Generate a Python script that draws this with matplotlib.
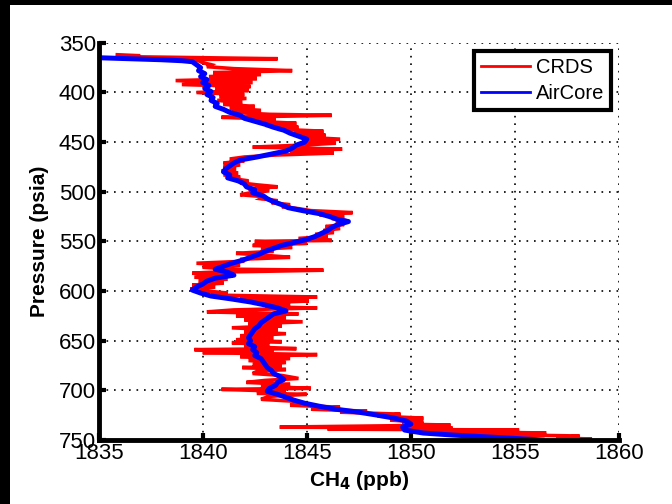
import numpy as np
import matplotlib
matplotlib.use("Agg")
import matplotlib.pyplot as plt
from matplotlib import patches

plt.rcParams['font.family'] = ['Liberation Sans', 'DejaVu Sans']

# CRDS profile (pressure in psia, CH4 in ppb)
crds_p = [362, 363, 364, 366, 367, 368, 370, 372, 374, 376, 378, 380, 382, 384, 386, 388,
          390, 392, 394, 396, 398, 400, 402, 404, 406, 408, 410, 412, 414, 416, 418, 420,
          422, 423, 425, 427, 429, 431, 433, 435, 437, 439, 441, 443, 445, 447, 449, 451,
          453, 455, 457, 459, 461, 463, 465, 467, 469, 471, 473, 475, 477, 479, 481, 483,
          485, 487, 489, 491, 493, 495, 497, 499, 501, 503, 505, 507, 509, 511, 513, 515,
          517, 519, 521, 523, 525, 527, 529, 531, 533, 535, 537, 539, 541, 543, 545, 547,
          549, 550, 552, 554, 556, 558, 560, 562, 564, 566, 568, 570, 572, 574, 576, 578,
          579, 581, 582, 584, 586, 588, 590, 592, 594, 596, 598, 600, 602, 604, 606, 608,
          610, 612, 614, 616, 617, 619, 621, 623, 625, 627, 629, 631, 633, 635, 637, 639,
          641, 643, 645, 647, 649, 651, 652, 654, 656, 658, 659, 661, 662, 664, 666, 668,
          670, 672, 674, 676, 677, 679, 681, 683, 685, 688, 690, 692, 694, 696, 698, 699,
          701, 703, 704, 706, 709, 711, 713, 715, 717, 719, 721, 722, 724, 726, 728, 730,
          732, 734, 735, 737, 738, 739, 740, 741, 743, 744, 746, 748, 749, 750]
crds_ch4 = [1835.9, 1837.0, 1836.5, 1843.6, 1838.0, 1839.8, 1840.0, 1840.4, 1840.2, 1841.5,
            1844.3, 1840.5, 1842.8, 1840.3, 1842.6, 1838.7, 1842.4, 1839.0, 1842.3, 1840.6,
            1842.2, 1839.7, 1842.0, 1840.8, 1842.1, 1840.7, 1841.9, 1841.0, 1842.5, 1841.3,
            1842.8, 1841.4, 1843.2, 1846.2, 1840.9, 1843.5, 1842.5, 1844.5, 1843.0, 1844.6,
            1843.6, 1845.8, 1844.4, 1845.9, 1844.8, 1846.6, 1845.0, 1846.4, 1844.8, 1842.4,
            1846.7, 1844.2, 1846.3, 1843.5, 1842.0, 1841.3, 1842.0, 1841.0, 1841.8, 1841.0,
            1841.6, 1840.9, 1841.7, 1841.0, 1841.8, 1841.5, 1842.2, 1841.8, 1842.6, 1843.6,
            1842.2, 1843.2, 1842.3, 1841.8, 1843.0, 1842.8, 1843.6, 1843.3, 1844.2, 1843.8,
            1844.6, 1845.2, 1847.2, 1845.6, 1846.8, 1846.2, 1846.9, 1846.4, 1846.8, 1845.9,
            1846.6, 1845.8, 1846.3, 1845.4, 1846.0, 1844.6, 1846.2, 1842.5, 1845.0, 1842.4,
            1844.3, 1842.8, 1843.4, 1841.6, 1843.0, 1844.2, 1841.8, 1842.0, 1839.7, 1841.8,
            1840.0, 1841.4, 1845.8, 1840.5, 1839.5, 1841.5, 1839.6, 1841.2, 1839.8, 1841.0,
            1839.5, 1840.6, 1839.4, 1840.2, 1841.2, 1840.4, 1845.5, 1841.8, 1845.1, 1842.6,
            1844.2, 1843.0, 1845.5, 1841.5, 1840.2, 1844.6, 1841.6, 1844.0, 1842.0, 1844.8,
            1842.2, 1843.8, 1841.4, 1843.6, 1842.0, 1844.0, 1841.8, 1843.4, 1841.6, 1843.8,
            1841.4, 1843.2, 1842.0, 1844.5, 1839.6, 1843.4, 1840.0, 1845.5, 1841.8, 1844.2,
            1842.2, 1844.0, 1842.4, 1843.8, 1841.9, 1844.0, 1842.6, 1842.4, 1843.8, 1844.6,
            1843.0, 1842.1, 1844.2, 1842.8, 1845.2, 1840.9, 1844.0, 1842.6, 1845.0, 1843.2,
            1842.8, 1844.4, 1844.8, 1844.2, 1846.6, 1845.2, 1847.9, 1846.6, 1849.5, 1848.4,
            1850.6, 1849.0, 1850.6, 1849.6, 1851.9, 1843.7, 1852.0, 1846.0, 1855.2, 1850.5,
            1856.5, 1852.5, 1858.1, 1857.0, 1858.7, 1858.0]

# AirCore profile
aircore_p = [365, 366, 367, 368, 369, 372, 375, 378, 381, 384, 387, 390, 393, 396, 399, 402,
             405, 408, 411, 414, 417, 420, 423, 426, 429, 432, 435, 438, 441, 444, 447, 450,
             453, 456, 459, 462, 465, 468, 471, 474, 477, 480, 483, 486, 489, 492, 495, 498,
             501, 504, 507, 510, 513, 516, 519, 522, 525, 528, 530, 533, 536, 539, 542, 545,
             548, 551, 554, 557, 560, 563, 566, 569, 572, 575, 578, 581, 584, 587, 590, 593,
             596, 599, 602, 605, 608, 611, 614, 617, 620, 623, 626, 629, 632, 635, 638, 641,
             644, 647, 650, 653, 656, 659, 662, 665, 668, 671, 674, 677, 680, 683, 686, 689,
             692, 695, 698, 701, 704, 707, 710, 713, 716, 719, 722, 725, 728, 731, 734, 737,
             740, 743, 745, 747, 749, 750]
aircore_ch4 = [1835.0, 1836.5, 1838.0, 1839.0, 1839.5, 1839.7, 1839.9, 1839.8, 1840.1, 1839.9,
               1840.2, 1840.0, 1840.3, 1840.1, 1840.4, 1840.2, 1840.5, 1840.4, 1840.7, 1840.6,
               1841.0, 1841.3, 1841.8, 1842.0, 1842.5, 1843.0, 1843.4, 1843.9, 1844.2, 1844.6,
               1845.0, 1844.9, 1844.5, 1844.3, 1844.0, 1843.3, 1842.6, 1841.8, 1841.5, 1841.3,
               1841.1, 1841.0, 1841.3, 1841.2, 1841.7, 1842.0, 1842.1, 1842.5, 1842.4, 1842.9,
               1843.1, 1843.4, 1843.8, 1844.1, 1844.8, 1845.6, 1846.1, 1846.5, 1847.0, 1846.5,
               1846.2, 1846.0, 1845.7, 1845.4, 1845.0, 1844.4, 1843.8, 1843.4, 1843.0, 1842.7,
               1842.3, 1841.9, 1841.4, 1841.0, 1840.6, 1841.2, 1841.5, 1840.6, 1840.2, 1840.0,
               1839.7, 1839.5, 1839.9, 1840.4, 1841.4, 1842.3, 1843.0, 1843.6, 1844.0, 1843.4,
               1843.2, 1843.0, 1842.8, 1842.7, 1842.5, 1842.4, 1842.3, 1842.2, 1842.3, 1842.2,
               1842.5, 1842.4, 1842.6, 1842.5, 1842.8, 1842.9, 1843.0, 1843.1, 1843.3, 1843.4,
               1843.7, 1843.9, 1843.6, 1843.5, 1843.2, 1843.1, 1843.6, 1844.0, 1844.4, 1844.9,
               1845.6, 1846.4, 1847.5, 1848.4, 1849.2, 1849.8, 1850.0, 1849.6, 1849.7, 1850.6,
               1852.0, 1853.8, 1855.5, 1856.3]

x_ticks = [1835, 1840, 1845, 1850, 1855, 1860]
y_ticks = [350, 400, 450, 500, 550, 600, 650, 700, 750]

fig = plt.figure(figsize=(6.72, 5.04), dpi=100, facecolor='white')
# black strips along the top and left edge of the picture
fig.patches.append(patches.Rectangle((0, 0), 10/672, 1, transform=fig.transFigure,
                                     facecolor='black', edgecolor='none'))
fig.patches.append(patches.Rectangle((0, 1 - 5/504), 1, 5/504, transform=fig.transFigure,
                                     facecolor='black', edgecolor='none'))

ax = fig.add_axes([0.1467, 0.127, 0.7746, 0.788])
ax.set_facecolor('white')

ax.plot(crds_ch4, crds_p, color='#ff0000', lw=2.6, label='CRDS', solid_joinstyle='miter')
ax.plot(aircore_ch4, aircore_p, color='#0000ff', lw=3.6, label='AirCore')

ax.set_xlim(1835, 1860)
ax.set_ylim(750, 350)
ax.set_xticks(x_ticks)
ax.set_yticks(y_ticks)
ax.tick_params(direction='in', length=5, width=3, labelsize=16, pad=2)

ax.grid(True, color='black', linestyle=(0, (1, 3.5)), lw=1.2)
for s in ['top', 'right']:
    ax.spines[s].set_visible(False)
for s in ['left', 'bottom']:
    ax.spines[s].set_linewidth(3.5)
    ax.spines[s].set_capstyle('projecting')

ax.set_xlabel('CH$_\\mathbf{4}$ (ppb)', fontsize=15, fontweight='bold', labelpad=4)
ax.set_ylabel('Pressure (psia)', fontsize=15, fontweight='bold', labelpad=7)

leg = ax.legend(loc='upper right', fontsize=14.5, handlelength=2.4, handletextpad=0.3,
                borderpad=0.35, labelspacing=0.35, fancybox=False, framealpha=1,
                borderaxespad=0.4)
leg.get_frame().set_edgecolor('black')
leg.get_frame().set_linewidth(3)
for line in leg.get_lines():
    line.set_linewidth(2)

fig.savefig('out.png', dpi=100)
